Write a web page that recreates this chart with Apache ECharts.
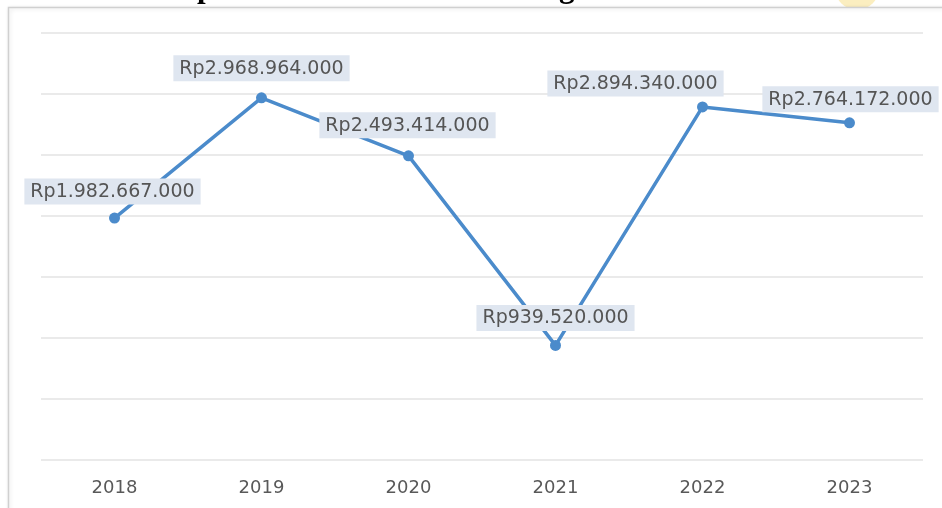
<!DOCTYPE html>
<html>
<head>
<meta charset="utf-8">
<script src="https://cdn.jsdelivr.net/npm/echarts@6/dist/echarts.min.js"></script>
<style>
html,body{margin:0;padding:0;background:#fff;}
#c{width:942px;height:508px;}
</style>
</head>
<body>
<div id="c"></div>
<script>
var titleText = "Grafik Pendapatan Wisata Kota Bandung Tahun 2018-2023";
var categories = ["2018", "2019", "2020", "2021", "2022", "2023"];
var revenue = [1982667000, 2968964000, 2493414000, 939520000, 2894340000, 2764172000];
var yMin = 0, yMax = 3500000000, yStep = 500000000;

function fmt(v) {
  return "Rp" + String(v).replace(/\B(?=(\d{3})+(?!\d))/g, ".");
}

// label placement tweaks (style only)
var labelTweaks = [
  { distance: 8, offset: [-2, 0] },
  { distance: 11, offset: [0, 0] },
  { distance: 12, offset: [-1, 0] },
  { distance: 9, offset: [0, 0] },
  { distance: 5, offset: [-67, 0] },
  { distance: 5, offset: [1, 0] }
];

var chart = echarts.init(document.getElementById('c'), null, { renderer: 'canvas' });
chart.setOption({
  backgroundColor: '#ffffff',
  animation: false,
  graphic: [
    {
      type: 'rect', z: -10,
      shape: { x: 8.5, y: 7.5, width: 960, height: 520 },
      style: { fill: '#ffffff', stroke: '#d0d0d0', lineWidth: 1.5,
               shadowBlur: 4, shadowColor: 'rgba(0,0,0,0.12)', shadowOffsetX: 1, shadowOffsetY: 1 }
    },
    {
      type: 'circle', z: -11,
      shape: { cx: 857, cy: -12, r: 22 },
      style: { fill: '#fbeec0' }
    },
    {
      type: 'text', z: 10,
      left: 17, top: -27,
      style: { text: titleText, font: 'bold 31px "Liberation Serif", serif', fill: '#000' }
    }
  ],
  grid: { left: 41, right: 19, top: 33, bottom: 48, containLabel: false },
  xAxis: {
    type: 'category',
    data: categories,
    boundaryGap: true,
    axisLine: { show: false },
    axisTick: { show: false },
    axisLabel: { color: '#595959', fontSize: 18, fontFamily: 'DejaVu Sans', margin: 19 }
  },
  yAxis: {
    type: 'value',
    min: yMin, max: yMax, interval: yStep,
    axisLabel: { show: false },
    axisLine: { show: false },
    axisTick: { show: false },
    splitLine: { lineStyle: { color: '#e3e3e3', width: 1.5 } }
  },
  series: [{
    type: 'line',
    data: revenue.map(function (v, i) {
      return { value: v, label: { distance: labelTweaks[i].distance, offset: labelTweaks[i].offset } };
    }),
    symbol: 'circle',
    symbolSize: 11,
    lineStyle: { color: '#4b8bcb', width: 3.5 },
    itemStyle: { color: '#4b8bcb' },
    label: {
      show: true,
      position: 'top',
      formatter: function (p) { return fmt(p.value); },
      color: '#555555',
      fontSize: 19,
      fontFamily: 'DejaVu Sans',
      backgroundColor: '#dfe6f0',
      padding: [4, 6, 3, 6]
    }
  }]
});
</script>
</body>
</html>
